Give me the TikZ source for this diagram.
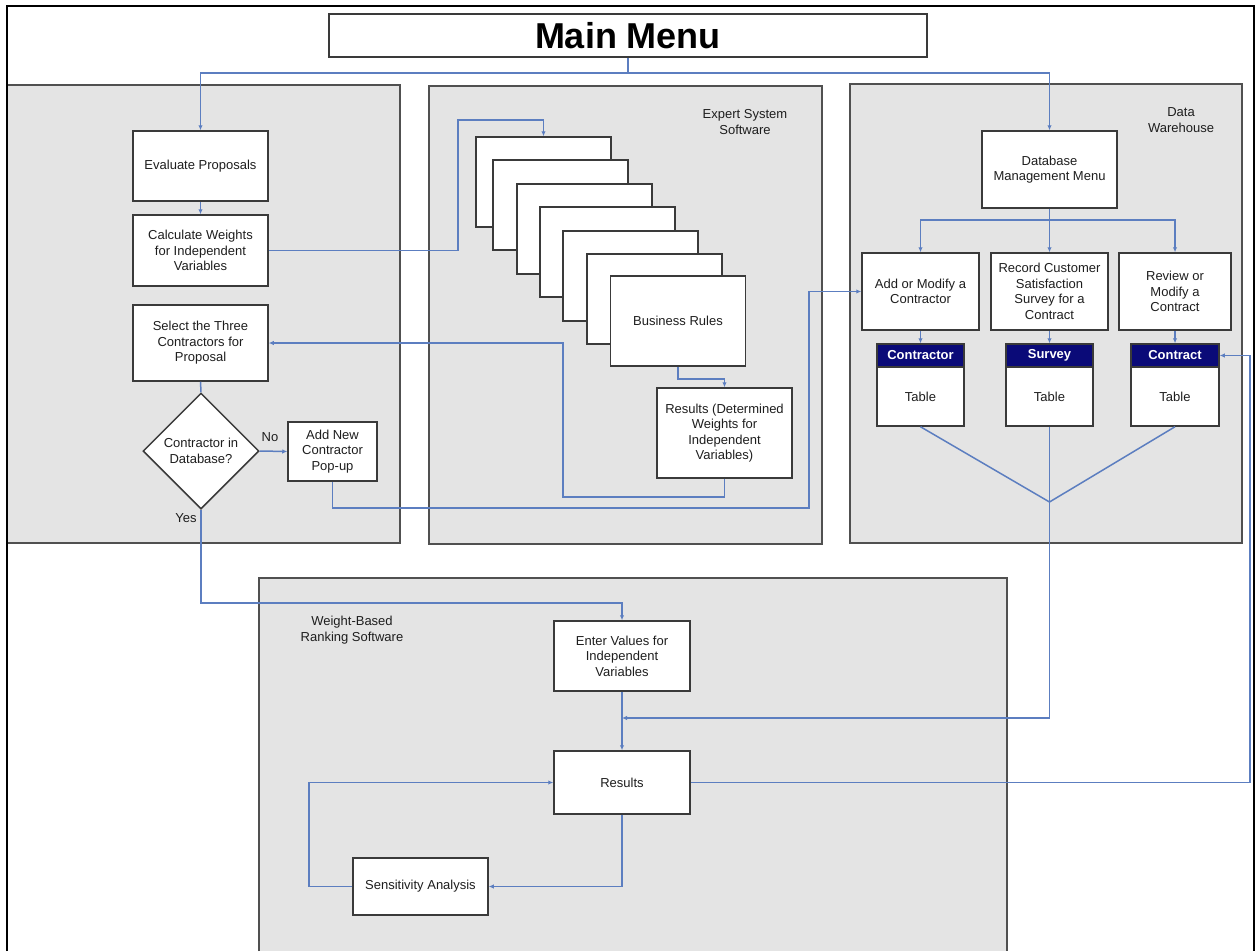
\documentclass[tikz,border=0pt]{standalone}
\usepackage{fontspec}
\setmainfont{Liberation Sans}
\usetikzlibrary{shapes.geometric,arrows.meta}

\definecolor{panelgray}{RGB}{228,228,228}
\definecolor{paneledge}{RGB}{80,80,80}
\definecolor{boxedge}{RGB}{58,58,58}
\definecolor{flowblue}{RGB}{92,126,192}
\definecolor{navyhead}{RGB}{10,10,120}
\definecolor{txt}{RGB}{30,30,30}

\begin{document}
\begin{tikzpicture}[x=1pt,y=-1pt,
  panel/.style={fill=panelgray,draw=paneledge,line width=1.4pt},
  box/.style={draw=boxedge,fill=white,line width=1.5pt,inner sep=1pt,
    align=center,text=txt,font=\fontsize{13}{15.5}\selectfont},
  lbl/.style={align=center,text=txt,inner sep=0pt,font=\fontsize{13}{15.5}\selectfont},
  tablehead/.style={draw=boxedge,fill=navyhead,line width=1.5pt,inner sep=0pt,
    text=white,font=\fontsize{13}{15.5}\selectfont\bfseries},
  conn/.style={draw=flowblue,line width=1.5pt},
  arr/.style={conn,-{Latex[length=5pt,width=4.5pt]}}]

\useasboundingbox (0,0) rectangle (1255,951);

% group panels
\path[panel] (7,85) rectangle (400,543);
\path[panel] (429,86) rectangle (822,544);
\path[panel] (850,84) rectangle (1242,543);
\fill[panelgray] (259,578) rectangle (1007,951);
\draw[paneledge,line width=1.4pt] (259,951) -- (259,578) -- (1007,578) -- (1007,951);

% outer frame
\draw[black,line width=2pt] (6.5,951) -- (6.5,5.5) -- (1254,5.5) -- (1254,951);

% title
\node[box,minimum width=598,minimum height=43,line width=1.6pt,
  font=\fontsize{36}{38}\selectfont\bfseries,text=black] (mm) at (628,35.5) {Main Menu};

% proposal evaluation
\node[box,minimum width=135,minimum height=70] (ep) at (200.5,166) {Evaluate Proposals};
\node[box,minimum width=135,minimum height=71] (cw) at (200.5,250.5) {Calculate Weights\\for Independent\\Variables};
\node[box,minimum width=135,minimum height=76] (sel) at (200.5,343) {Select the Three\\Contractors for\\Proposal};
\node[box,diamond,aspect=1,inner sep=0pt,minimum width=116,minimum height=116] (dia) at (201,451) {Contractor in\\Database?};
\node[box,minimum width=89,minimum height=59] (newc) at (332.5,451.5) {Add New\\Contractor\\Pop-up};
\node[lbl] (nolbl) at (270,437) {No};
\node[lbl] (yeslbl) at (186,518) {Yes};

% expert system
\node[lbl] (estitle) at (745,122) {Expert System\\Software};
\foreach \cx/\cy [count=\i] in {543.5/182,560.5/205,584.5/229,607.5/252,630.5/276,654.5/299}
  \node[box,minimum width=135,minimum height=90] (rule\i) at (\cx,\cy) {};
\node[box,minimum width=135,minimum height=90] (rule7) at (678,321) {Business Rules};
\node[box,minimum width=135,minimum height=90] (res1) at (724.5,433) {Results (Determined\\Weights for\\Independent\\Variables)};

% data warehouse
\node[lbl] (dwtitle) at (1181,120) {Data\\Warehouse};
\node[box,minimum width=135,minimum height=77] (dmm) at (1049.5,169.5) {Database\\Management Menu};
\node[box,minimum width=117,minimum height=77] (amc) at (920.5,291.5) {Add or Modify a\\Contractor};
\node[box,minimum width=117,minimum height=77] (rcs) at (1049.5,291.5) {Record Customer\\Satisfaction\\Survey for a\\Contract};
\node[box,minimum width=112,minimum height=77] (rmc) at (1175,291.5) {Review or\\Modify a\\Contract};

\node[box,minimum width=87,minimum height=59] (tcb) at (920.5,396.5) {Table};
\node[tablehead,minimum width=87,minimum height=23] (tch) at (920.5,355.5) {Contractor};
\node[box,minimum width=87,minimum height=59] (tsb) at (1049.5,396.5) {Table};
\node[tablehead,minimum width=87,minimum height=23] (tsh) at (1049.5,355.5) {Survey};
\node[box,minimum width=88,minimum height=59] (tkb) at (1175,396.5) {Table};
\node[tablehead,minimum width=88,minimum height=23] (tkh) at (1175,355.5) {Contract};

% ranking software
\node[lbl] (wbtitle) at (352,630) {Weight-Based\\Ranking Software};
\node[box,minimum width=136,minimum height=70] (ev) at (622,656) {Enter Values for\\Independent\\Variables};
\node[box,minimum width=136,minimum height=63] (res2) at (622,782.5) {Results};
\node[box,minimum width=135,minimum height=57] (sa) at (420.5,886.5) {Sensitivity Analysis};

% connectors
\coordinate (mmsplit) at (628,73);
\draw[conn] (mm.south) -- (mmsplit);
\draw[arr] (mmsplit) -| (ep.north);
\draw[arr] (mmsplit) -| (dmm.north);

\draw[arr] (ep.south) -- (cw.north);
\draw[conn] (sel.south) -- (dia.north);
\draw[arr] (dia.east) -- (newc.west);
\draw[arr] (cw.east) -| (458,120) -| (rule1.north);
\draw[arr] (rule7.south) -- ++(0,12) -| (res1.north);
\draw[arr] (res1.south) -- ++(0,18) -| (563,343) -- (sel.east);
\draw[arr] (newc.south) -- ++(0,26) -| (809,291.5) -- (amc.west);

\coordinate (dmmsplit) at (1049.5,220);
\draw[conn] (dmm.south) -- (dmmsplit);
\draw[arr] (dmmsplit) -| (amc.north);
\draw[arr] (dmmsplit) -- (rcs.north);
\draw[arr] (dmmsplit) -| (rmc.north);
\draw[arr] (amc.south) -- (tch.north);
\draw[arr] (rcs.south) -- (tsh.north);
\draw[arr] (rmc.south) -- (tkh.north);

\coordinate (merge) at (1049.5,502);
\coordinate (joinev) at (622,718);
\draw[conn] (tcb.south) -- (merge);
\draw[conn] (tkb.south) -- (merge);
\draw[conn] (tsb.south) -- (merge);
\draw[arr] (merge) |- (joinev);

\draw[arr] (dia.south) -- (201,603) -| (ev.north);
\draw[arr] (ev.south) -- (res2.north);
\draw[arr] (res2.south) |- (sa.east);
\draw[arr] (sa.west) -- (309,886.5) |- (res2.west);
\draw[arr] (res2.east) -- (1250,782.5) |- (tkh.east);
\end{tikzpicture}
\end{document}
